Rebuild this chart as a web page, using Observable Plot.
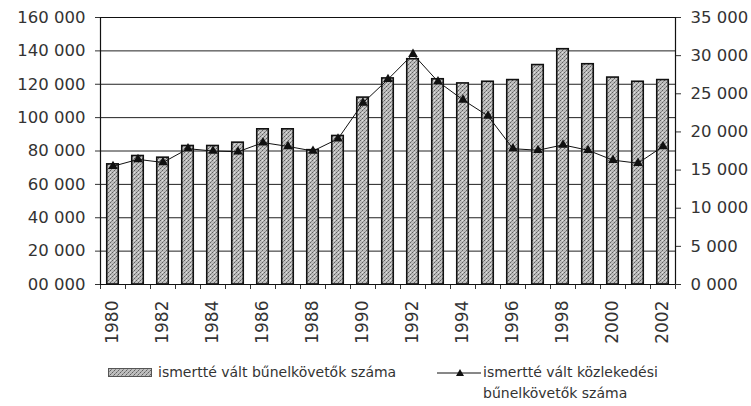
<!DOCTYPE html>
<html>
<head>
<meta charset="utf-8">
<script src="https://cdn.jsdelivr.net/npm/d3@7"></script>
<script src="https://cdn.jsdelivr.net/npm/@observablehq/plot@0.6"></script>
<style>
  body { margin: 0; background: #fff; font-family: "DejaVu Sans", sans-serif; color: #333; }
  #wrap { position: relative; width: 751px; height: 406px; }
  .leg { position: absolute; font-size: 14px; color: #333; line-height: 21px; white-space: nowrap; }
</style>
</head>
<body>
<div id="wrap">
  <div id="chart"></div>
  <div class="leg" style="left:108px; top:362px; display:flex; align-items:center;">
    <svg width="44" height="9" style="margin-right:6px"><defs>
      <pattern id="stipL" width="4" height="4" patternUnits="userSpaceOnUse">
        <rect width="4" height="4" fill="#bdbdbd"/>
        <rect x="0" y="0" width="1" height="1" fill="#5e5e5e"/>
        <rect x="2" y="2" width="1" height="1" fill="#5e5e5e"/>
        <rect x="1" y="3" width="1" height="1" fill="#888"/>
        <rect x="3" y="1" width="1" height="1" fill="#888"/>
      </pattern></defs>
      <rect x="0.5" y="0.5" width="43" height="8" fill="url(#stipL)" stroke="#555"/>
    </svg>
    <span id="leg1"></span>
  </div>
  <div class="leg" style="left:437px; top:362px;">
    <div style="display:flex; align-items:center;">
      <svg width="44" height="12" style="margin-right:2px">
        <line x1="0" y1="6" x2="44" y2="6" stroke="#111" stroke-width="1"/>
        <path d="M23,2 L27,9 L19,9 Z" fill="#111"/>
      </svg>
      <span id="leg2a"></span>
    </div>
    <div id="leg2b" style="margin-left:46px"></div>
  </div>
</div>
<script>
const years = [1980,1981,1982,1983,1984,1985,1986,1987,1988,1989,1990,1991,1992,1993,1994,1995,1996,1997,1998,1999,2000,2001,2002];
const offenders = [72000,77000,76000,83000,83000,85000,93000,93000,80500,89000,112000,123500,135000,123000,120500,121500,122500,131500,141000,132000,124000,121500,122500];
const traffic = [15500,16400,16000,17800,17500,17400,18600,18100,17500,19100,23800,26900,30200,26600,24200,22100,17800,17600,18300,17600,16300,15900,18100];
const leftTicks = [0,20000,40000,60000,80000,100000,120000,140000,160000];
const leftTickLabels = ["00 000","20 000","40 000","60 000","80 000","100 000","120 000","140 000","160 000"];
const rightTicks = [0,5000,10000,15000,20000,25000,30000,35000];
const rightTickLabels = ["0 000","5 000","10 000","15 000","20 000","25 000","30 000","35 000"];
const labelYears = [1980,1982,1984,1986,1988,1990,1992,1994,1996,1998,2000,2002];
const barLabel = "ismertté vált bűnelkövetők száma";
const lineLabel1 = "ismertté vált közlekedési";
const lineLabel2 = "bűnelkövetők száma";

document.getElementById("leg1").textContent = barLabel;
document.getElementById("leg2a").textContent = lineLabel1;
document.getElementById("leg2b").textContent = lineLabel2;

const ratio = 160000 / 35000;
const data = years.map((y, i) => ({year: y, offenders: offenders[i], traffic: traffic[i]}));
const boundaries = years.map(y => y - 0.5).concat([years[years.length - 1] + 0.5]);

const defs = () => {
  const d = d3.create("svg:defs");
  const p = d.append("pattern").attr("id", "stip").attr("width", 4).attr("height", 4).attr("patternUnits", "userSpaceOnUse");
  p.append("rect").attr("width", 4).attr("height", 4).attr("fill", "#bdbdbd");
  [[0,0,"#5e5e5e"],[2,2,"#5e5e5e"],[1,3,"#888"],[3,1,"#888"],[2,0,"#e0e0e0"]].forEach(([x,y,c]) =>
    p.append("rect").attr("x", x).attr("y", y).attr("width", 1).attr("height", 1).attr("fill", c));
  return d.node();
};

const chart = Plot.plot({
  width: 751,
  height: 345,
  marginTop: 17,
  marginBottom: 61,
  marginLeft: 100,
  marginRight: 76,
  style: {fontFamily: "DejaVu Sans, sans-serif", fontSize: "16.5px", color: "#333", background: "white"},
  x: {type: "linear", domain: [years[0] - 0.5, years[years.length - 1] + 0.5]},
  y: {domain: [0, 160000]},
  marks: [
    defs,
    Plot.ruleY(leftTicks.slice(1), {stroke: "#222", strokeWidth: 1}),
    Plot.rectY(data, {x1: d => d.year - 0.23, x2: d => d.year + 0.23, y: "offenders", fill: "url(#stip)", stroke: "#111", strokeWidth: 1.6}),
    Plot.line(data, {x: "year", y: d => d.traffic * ratio, stroke: "#111", strokeWidth: 1}),
    Plot.dot(data, {x: "year", y: d => d.traffic * ratio, symbol: "triangle", r: 3.6, fill: "#111", stroke: "none"}),
    Plot.axisY(leftTicks, {anchor: "left", tickSize: 5, tickPadding: 10, tickFormat: (d, i) => leftTickLabels[i], label: null}),
    Plot.axisY(rightTicks.map(t => t * ratio), {anchor: "right", tickSize: 5, tickPadding: 10, tickFormat: (d, i) => rightTickLabels[i], label: null}),
    Plot.axisX(boundaries, {tickSize: 5, tickFormat: () => "", label: null}),
    Plot.axisX(labelYears, {tickSize: 0, tickPadding: 16, tickRotate: -90, tickFormat: d => String(d), label: null, fontSize: "17px"}),
    Plot.ruleX([years[0] - 0.5, years[years.length - 1] + 0.5], {stroke: "#111", strokeWidth: 1.2}),
    Plot.ruleY([0, 160000], {stroke: "#111", strokeWidth: 1.2})
  ]
});
document.getElementById("chart").appendChild(chart);
</script>
</body>
</html>
